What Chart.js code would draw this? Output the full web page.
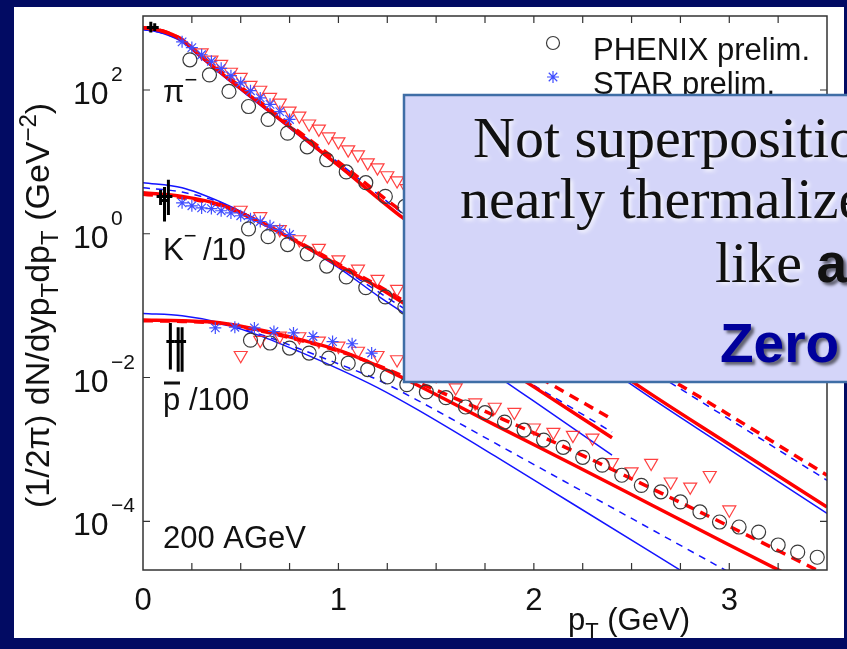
<!DOCTYPE html>
<html><head><meta charset="utf-8">
<script src="https://cdn.jsdelivr.net/npm/chart.js@4"></script>
<style>html,body{margin:0;padding:0;background:#020b63;overflow:hidden}canvas{display:block}</style>
</head><body>
<canvas id="c" width="847" height="649"></canvas>
<script>
// ---------- data ----------
const xTicks = [0, 1, 2, 3];
const yTickExp = [2, 0, -2, -4];

// pi- curves
const piLineX = [0, 0.1, 0.2, 0.3, 0.5, 0.75, 1.0, 1.33, 1.75, 2.0, 2.5, 3.0, 3.5];
const piRedSolid  = [741, 661, 501, 288, 105, 30.9, 8.91, 1.66, 0.251, 0.0832, 0.00891, 0.00117, 1.58e-4];
const piBlueSolid = [692, 617, 468, 275, 100, 29.5, 8.71, 1.66, 0.240, 0.0776, 0.00794, 0.00100, 1.29e-4];
const piRedDash   = [741, 661, 501, 295, 110, 33.1, 10.0, 2.00, 0.355, 0.132, 0.0200, 0.00302, 4.37e-4];
const piBlueDash  = [692, 617, 468, 282, 107, 32.4, 9.77, 1.91, 0.331, 0.123, 0.0182, 0.00263, 3.72e-4];
// pi- data
const piPhenixX = [0.24, 0.34, 0.44, 0.54, 0.64, 0.74, 0.84, 0.94, 1.04, 1.14, 1.24, 1.34];
const piPhenixY = [263, 162, 95.5, 58.9, 38.9, 25.1, 16.2, 10.7, 7.24, 5.13, 3.31, 2.40];
const piStarX = [0.20, 0.25, 0.30, 0.35, 0.40, 0.45, 0.50, 0.55, 0.60, 0.65, 0.70, 0.75];
const piStarY = [468, 389, 309, 251, 200, 158, 126, 97.7, 77.6, 63.1, 50.1, 38.9];
const piTriX = [0.30, 0.35, 0.40, 0.45, 0.50, 0.55, 0.60, 0.65, 0.70, 0.75, 0.80, 0.85, 0.90, 0.95, 1.00, 1.05, 1.10, 1.15, 1.20, 1.25, 1.30, 1.35];
const piTriY = [331, 263, 229, 178, 151, 117, 100, 79.4, 66.1, 51.3, 43.7, 33.9, 28.8, 22.4, 19.1, 14.8, 12.6, 9.77, 8.32, 6.46, 5.50, 4.27];

// K- /10 curves
const kLineX = [0, 0.2, 0.4, 0.6, 0.8, 1.0, 1.2, 1.4, 1.7, 2.0, 2.4];
const kRedSolid  = [3.72, 3.31, 2.51, 1.45, 0.741, 0.363, 0.182, 0.0832, 0.0251, 0.00741, 0.00145];
const kBlueSolid = [5.13, 4.37, 2.75, 1.48, 0.724, 0.339, 0.138, 0.0603, 0.0170, 0.00468, 8.32e-4];
const kRedDash   = [3.55, 3.16, 2.45, 1.45, 0.759, 0.380, 0.191, 0.0912, 0.0316, 0.0110, 0.00263];
const kBlueDash  = [4.37, 3.80, 2.69, 1.48, 0.741, 0.355, 0.158, 0.0708, 0.0224, 0.00776, 0.00174];
// K- data
const kPhenixX = [0.54, 0.64, 0.74, 0.84, 0.94, 1.04, 1.14, 1.24, 1.34];
const kPhenixY = [1.17, 0.912, 0.708, 0.525, 0.355, 0.251, 0.178, 0.132, 0.0955];
const kStarX = [0.20, 0.25, 0.30, 0.35, 0.40, 0.45, 0.50, 0.55, 0.60, 0.65, 0.70, 0.75];
const kStarY = [2.69, 2.45, 2.29, 2.24, 2.09, 1.95, 1.78, 1.62, 1.48, 1.29, 1.15, 0.977];
const kTriX = [0.50, 0.60, 0.70, 0.80, 0.90, 1.00, 1.10, 1.20, 1.30];
const kTriY = [2.14, 1.74, 1.15, 0.832, 0.631, 0.437, 0.324, 0.234, 0.170];

// pbar /100 curves
const pLineX = [0, 0.2, 0.4, 0.6, 0.8, 1.0, 1.2, 1.4, 1.8, 2.2, 2.6, 3.0, 3.5];
const pRedSolid  = [0.0631, 0.0617, 0.0575, 0.0457, 0.0339, 0.0240, 0.0145, 0.00794, 0.00219, 6.17e-4, 1.70e-4, 4.68e-5, 9.55e-6];
const pBlueSolid = [0.0776, 0.0724, 0.0575, 0.0380, 0.0229, 0.0132, 0.00724, 0.00363, 8.13e-4, 1.74e-4, 3.72e-5, 7.94e-6, 1.17e-6];
const pRedDash   = [0.0617, 0.0603, 0.0562, 0.0447, 0.0331, 0.0234, 0.0148, 0.00871, 0.00295, 9.55e-4, 2.88e-4, 8.51e-5, 1.78e-5];
const pBlueDash  = [0.0631, 0.0617, 0.0550, 0.0398, 0.0251, 0.0155, 0.00933, 0.00490, 0.00123, 3.09e-4, 7.76e-5, 1.95e-5, 3.47e-6];
// pbar data
const pPhenixX = [0.55, 0.65, 0.75, 0.85, 0.95, 1.05, 1.15, 1.25, 1.35, 1.45, 1.55, 1.65, 1.75, 1.85, 1.95, 2.05, 2.15, 2.25, 2.35, 2.45, 2.55, 2.65, 2.75, 2.85, 2.95, 3.05, 3.15, 3.25, 3.35, 3.45];
const pPhenixY = [0.0331, 0.0302, 0.0257, 0.0219, 0.0186, 0.0158, 0.0129, 0.0102, 0.00794, 0.00631, 0.00525, 0.00389, 0.00324, 0.00240, 0.00186, 0.00135, 0.00107, 7.76e-4, 6.03e-4, 4.37e-4, 3.16e-4, 2.57e-4, 1.86e-4, 1.35e-4, 9.77e-5, 8.32e-5, 7.08e-5, 4.68e-5, 3.72e-5, 3.16e-5];
const pStarX = [0.37, 0.47, 0.57, 0.67, 0.77, 0.87, 0.97, 1.07, 1.17];
const pStarY = [0.0490, 0.0501, 0.0490, 0.0437, 0.0417, 0.0372, 0.0316, 0.0295, 0.0219];
const pTriX = [0.5, 0.6, 0.7, 0.8, 0.9, 1.0, 1.1, 1.2, 1.3, 1.4, 1.5, 1.6, 1.7, 1.8, 1.9, 2.0, 2.1, 2.2, 2.3, 2.4, 2.5, 2.6, 2.7, 2.8, 2.9, 3.0];
const pTriY = [0.0204, 0.0331, 0.0380, 0.0372, 0.0324, 0.0275, 0.0234, 0.0204, 0.0178, 0.0141, 0.0107, 0.00724, 0.00447, 0.00389, 0.00331, 0.00200, 0.00174, 0.00158, 0.00145, 6.61e-4, 4.90e-4, 6.46e-4, 3.55e-4, 3.02e-4, 4.37e-4, 1.45e-4];

// low-pT black error bars
const barX   = [0.04, 0.06, 0.09, 0.11, 0.13, 0.14, 0.18, 0.20];
const barHi  = [891, 851, 4.07, 4.47, 5.62, 0.0575, 0.0501, 0.0501];
const barLo  = [631, 661, 2.51, 1.48, 1.82, 0.0129, 0.0120, 0.0120];
const barMid = [741, 741, 3.3, 2.9, 3.3, 0.0316, 0.0316, 0.0316];

// ---------- build ----------
const pts = (xs, ys) => xs.map((x, i) => ({x: x, y: ys[i]}));
const SANS = '"Liberation Sans", Arial, Helvetica, sans-serif';
const SERIF = '"Liberation Serif", "Times New Roman", serif';

function markers(xs, ys, kind) {
  const base = {data: pts(xs, ys), showLine: false, pointBackgroundColor: 'rgba(0,0,0,0)'};
  if (kind === 'circle') return Object.assign(base, {pointStyle: 'circle', pointRadius: 7, pointBorderColor: '#3a3a3a', pointBorderWidth: 1.2});
  if (kind === 'star') return Object.assign(base, {pointStyle: 'star', pointRadius: 6, pointBorderColor: '#3f4dff', pointBorderWidth: 1.2});
  return Object.assign(base, {pointStyle: 'triangle', pointRotation: 180, pointRadius: 7.5, pointBorderColor: 'rgba(255,30,30,0.85)', pointBorderWidth: 1.2});
}
function curve(xs, ys, color, dashed, width) {
  return {data: pts(xs, ys), borderColor: color, borderWidth: width, borderDash: dashed ? (width > 2 ? [10, 7] : [7, 6]) : [],
    pointRadius: 0, cubicInterpolationMode: 'monotone', fill: false};
}
const RED = '#ff0000', BLUE = '#1414ff';
const datasets = [
  markers(piPhenixX, piPhenixY, 'circle'), markers(piStarX, piStarY, 'star'), markers(piTriX, piTriY, 'tri'),
  markers(kPhenixX, kPhenixY, 'circle'), markers(kStarX, kStarY, 'star'), markers(kTriX, kTriY, 'tri'),
  markers(pPhenixX, pPhenixY, 'circle'), markers(pStarX, pStarY, 'star'), markers(pTriX, pTriY, 'tri'),
  curve(piLineX, piRedDash, RED, true, 3.5), curve(piLineX, piRedSolid, RED, false, 3.5),
  curve(piLineX, piBlueDash, BLUE, true, 1.5), curve(piLineX, piBlueSolid, BLUE, false, 1.5),
  curve(kLineX, kRedDash, RED, true, 3.5), curve(kLineX, kRedSolid, RED, false, 3.5),
  curve(kLineX, kBlueDash, BLUE, true, 1.5), curve(kLineX, kBlueSolid, BLUE, false, 1.5),
  curve(pLineX, pRedDash, RED, true, 3.5), curve(pLineX, pRedSolid, RED, false, 3.5),
  curve(pLineX, pBlueDash, BLUE, true, 1.5), curve(pLineX, pBlueSolid, BLUE, false, 1.5)
];

function runs(ctx, x, y, parts) {
  for (const p of parts) {
    ctx.font = (p.b ? 'bold ' : '') + p.s + 'px ' + (p.f || SANS);
    ctx.fillText(p.t, x, y + (p.dy || 0));
    x += ctx.measureText(p.t).width;
  }
  return x;
}

const deco = {
  id: 'deco',
  beforeDraw(chart) {
    const ctx = chart.ctx;
    ctx.save();
    ctx.fillStyle = '#020b63';
    ctx.fillRect(0, 0, chart.width, chart.height);
    ctx.fillStyle = '#ffffff';
    ctx.fillRect(14, 7, 830, 631);
    ctx.restore();
  },
  afterDatasetsDraw(chart) {
    const ctx = chart.ctx, xs = chart.scales.x, ys = chart.scales.y, a = chart.chartArea;
    ctx.save();
    // black error bars
    ctx.strokeStyle = '#000'; ctx.lineWidth = 3;
    barX.forEach((x, i) => {
      const px = xs.getPixelForValue(x);
      ctx.beginPath();
      ctx.moveTo(px, ys.getPixelForValue(barHi[i]));
      ctx.lineTo(px, ys.getPixelForValue(barLo[i]));
      const pm = ys.getPixelForValue(barMid[i]);
      ctx.moveTo(px - 4, pm); ctx.lineTo(px + 4, pm);
      ctx.stroke();
    });
    // frame
    ctx.strokeStyle = '#333'; ctx.lineWidth = 1.5;
    ctx.strokeRect(a.left, a.top, a.right - a.left, a.bottom - a.top);
    // ticks
    ctx.lineWidth = 1.2;
    ctx.beginPath();
    for (let v = 0.25; v < 3.5; v += 0.25) {
      const px = xs.getPixelForValue(v);
      ctx.moveTo(px, a.bottom); ctx.lineTo(px, a.bottom - 7);
      ctx.moveTo(px, a.top); ctx.lineTo(px, a.top + 7);
    }
    yTickExp.forEach(e => {
      const py = ys.getPixelForValue(Math.pow(10, e));
      ctx.moveTo(a.left, py); ctx.lineTo(a.left + 7, py);
      ctx.moveTo(a.right, py); ctx.lineTo(a.right - 7, py);
    });
    ctx.stroke();
    // tick labels
    ctx.fillStyle = '#111';
    ctx.textAlign = 'center'; ctx.textBaseline = 'alphabetic';
    ctx.font = '31px ' + SANS;
    xTicks.forEach(v => ctx.fillText(String(v), xs.getPixelForValue(v), 610));
    ctx.textAlign = 'left';
    yTickExp.forEach(e => {
      const py = ys.getPixelForValue(Math.pow(10, e));
      runs(ctx, 73, py + 14, [{t: '10', s: 32}]);
      runs(ctx, 111, py - 9, [{t: e < 0 ? '\u2212' + (-e) : String(e), s: 21}]);
    });
    // axis titles
    runs(ctx, 568, 630, [{t: 'p', s: 31}, {t: 'T', s: 22, dy: 8}, {t: ' (GeV)', s: 31}]);
    ctx.save();
    ctx.translate(49, 508); ctx.rotate(-Math.PI / 2);
    runs(ctx, 0, 0, [{t: '(1/2\u03c0) dN/dyp', s: 34}, {t: 'T', s: 24, dy: 9}, {t: 'dp', s: 34}, {t: 'T', s: 24, dy: 9},
      {t: ' (GeV', s: 34}, {t: '\u22122', s: 24, dy: -13}, {t: ')', s: 34}]);
    ctx.restore();
    // species labels
    runs(ctx, 163, 102, [{t: '\u03c0', s: 31}, {t: '\u2212', s: 22, dy: -15}]);
    runs(ctx, 163, 260, [{t: 'K', s: 31}, {t: '\u2212', s: 22, dy: -17}]);
    runs(ctx, 203, 260, [{t: '/10', s: 31}]);
    runs(ctx, 163, 410, [{t: 'p', s: 31}]);
    ctx.lineWidth = 3; ctx.strokeStyle = '#111';
    ctx.beginPath(); ctx.moveTo(164, 383); ctx.lineTo(180, 383); ctx.stroke();
    runs(ctx, 189, 410, [{t: '/100', s: 31}]);
    runs(ctx, 163, 548, [{t: '200 AGeV', s: 31}]);
    // legend
    ctx.strokeStyle = '#3a3a3a'; ctx.lineWidth = 1.2;
    ctx.beginPath(); ctx.arc(553, 43, 6.5, 0, Math.PI * 2); ctx.stroke();
    ctx.strokeStyle = '#3f4dff';
    Chart.helpers.drawPoint(ctx, {pointStyle: 'star', radius: 6, borderWidth: 1.2}, 553, 77);
    ctx.fillStyle = '#111';
    runs(ctx, 593, 60, [{t: 'PHENIX prelim.', s: 31}]);
    runs(ctx, 593, 94, [{t: 'STAR prelim.', s: 31}]);
    ctx.restore();
  },
  afterDraw(chart) {
    const ctx = chart.ctx;
    ctx.save();
    ctx.fillStyle = '#d4d5f9';
    ctx.fillRect(404, 95, 500, 287);
    ctx.strokeStyle = '#3f6ea6'; ctx.lineWidth = 2.5;
    ctx.strokeRect(404, 95, 500, 287);
    ctx.textAlign = 'left'; ctx.textBaseline = 'alphabetic';
    ctx.fillStyle = '#111';
    ctx.shadowColor = 'rgba(255,255,255,0.95)'; ctx.shadowBlur = 4; ctx.shadowOffsetX = 2; ctx.shadowOffsetY = 2;
    runs(ctx, 473, 157, [{t: 'Not superposition of nucleon collisions,', s: 58, f: SERIF}]);
    runs(ctx, 460, 218, [{t: 'nearly thermalized system', s: 58, f: SERIF}]);
    const nx = runs(ctx, 715, 282, [{t: 'like ', s: 58, f: SERIF}]);
    ctx.shadowColor = 'rgba(0,0,0,0.55)'; ctx.shadowBlur = 3; ctx.shadowOffsetX = 3; ctx.shadowOffsetY = 3;
    runs(ctx, nx, 282, [{t: 'a perfect fluid', s: 55, b: true}]);
    ctx.fillStyle = '#00009c';
    runs(ctx, 720, 362, [{t: 'Zero viscosity', s: 55, b: true}]);
    ctx.restore();
  }
};

new Chart(document.getElementById('c'), {
  type: 'line',
  data: {datasets: datasets},
  options: {
    responsive: false, devicePixelRatio: 1, animation: false,
    layout: {padding: {left: 143, right: 20, top: 16, bottom: 79}},
    plugins: {legend: {display: false}, tooltip: {enabled: false}},
    scales: {
      x: {type: 'linear', min: 0, max: 3.5, display: false},
      y: {type: 'logarithmic', min: 2.1e-5, max: 1.07e3, display: false}
    }
  },
  plugins: [deco]
});
</script></body></html>
